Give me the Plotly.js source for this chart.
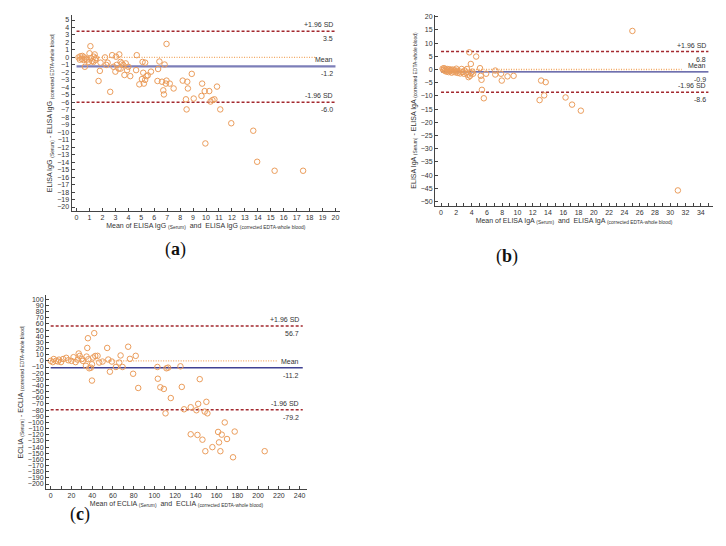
<!DOCTYPE html>
<html>
<head>
<meta charset="utf-8">
<script src="https://cdn.plot.ly/plotly-3.0.1.min.js"></script>
<style>html,body{margin:0;padding:0;background:#fff;}#chart{width:726px;height:546px;}</style>
</head>
<body>
<div id="chart"></div>
<script>
// ---- Panel (a): ELISA IgG ----
const aMean = [0.15,0.25,0.3,0.4,0.45,0.55,0.6,0.64,0.7,0.8,0.95,1.0,1.07,1.1,1.2,1.3,1.33,1.4,1.45,1.5,1.7,1.8,1.85,2.2,2.3,2.4,2.6,2.75,2.85,3.0,3.05,3.1,3.25,3.3,3.4,3.4,3.5,3.6,3.7,3.8,3.9,4.0,4.15,4.6,4.65,4.85,5.05,5.1,5.15,5.2,5.3,5.3,5.4,5.5,5.75,6.25,6.3,6.4,6.6,6.7,6.75,6.8,6.9,6.95,6.95,7.2,7.5,8.2,8.45,8.5,8.55,8.6,8.9,9.05,9.65,9.7,9.9,9.95,10.25,10.35,10.5,10.65,10.85,11.1,11.95,13.65,13.95,15.3,17.5];
const aDiff = [0.0,-0.3,0.15,-0.2,0.2,-0.35,0.0,-1.25,-0.2,-0.3,-0.6,0.55,1.5,-0.1,-0.5,-0.6,0.1,0.4,-0.35,-0.1,-3.15,-1.8,-0.7,0.0,-1.0,-0.7,-4.6,0.3,-1.25,-1.9,0.1,-1.0,-1.5,0.4,-0.6,-1.5,-0.8,-1.0,-2.35,-0.8,-1.7,-1.25,-2.5,-1.7,0.3,-3.6,-2.9,-0.6,-2.05,-3.5,-3.0,-0.7,-2.5,-2.4,-1.9,-3.15,-1.55,-0.55,-3.25,-4.4,-4.95,-0.95,-3.5,1.8,-3.1,-3.5,-4.15,-3.1,-5.6,-6.95,-3.25,-4.15,-2.2,-5.5,-5.15,-3.5,-4.5,-11.5,-4.5,-5.9,-5.7,-5.6,-3.9,-6.95,-8.8,-9.8,-13.95,-15.15,-15.15];
const aStats = {upper: 3.5, mean: -1.2, lower: -6.0};
const aLineX = [0, 20.0];
const aZeroX = [0, 18.5];

// ---- Panel (b): ELISA IgA ----
const bMean = [0.2,0.3,0.4,0.5,0.6,0.7,0.8,0.9,1.0,1.1,1.2,1.3,1.4,1.5,1.6,1.8,1.9,2.0,2.1,2.2,2.4,2.5,2.7,2.8,3.0,3.1,3.3,3.4,3.5,3.6,3.7,3.8,3.9,3.9,4.1,4.2,4.6,5.1,5.2,5.3,5.35,5.6,5.9,7.1,7.1,7.85,7.95,8.7,9.5,12.9,13.1,13.5,13.7,16.3,17.15,18.3,25.05,31.0];
const bDiff = [0.3,-0.2,0.5,-0.5,0.0,-0.8,0.2,-0.4,-1.0,0.1,-0.6,-0.2,-1.2,0.0,-0.8,-0.3,-1.1,0.3,-0.5,-1.3,-0.7,-1.5,0.2,-1.0,-1.6,-0.4,-1.2,0.2,-2.0,-2.9,6.5,-2.4,2.1,-1.4,-0.8,-1.6,4.9,0.5,-2.4,-3.9,-7.7,-10.9,-1.6,-0.4,-1.9,-1.6,-4.2,-2.6,-2.4,-11.6,-4.2,-9.8,-4.8,-10.6,-13.3,-15.6,14.6,-45.8];
const bStats = {upper: 6.8, mean: -0.9, lower: -8.6};
const bLineX = [0, 35.0];
const bZeroX = [0, 31.5];

// ---- Panel (c): ECLIA ----
const cMean = [0,2,3,5,7,8,10,12,15,17,20,22,24,26,27,28,30,31,34,34.6,35.3,35.9,36.3,37.2,38.8,39.8,39.8,41,42,43,45.2,46.8,50,54.5,55.5,57.1,59,62.9,66.1,67.4,69.3,74.7,76.4,79.5,82,84.4,102.9,103.3,105.7,109.1,110.7,111.6,113.2,115.8,125.1,126.4,128.6,135,135,140.5,141.5,142.2,143.7,146.3,148.5,149.1,150.1,151.1,155.9,161.4,162.3,163.6,164.9,167.8,170,175.8,177.4,206.3];
const cDiff = [0,-2,3,0,-1,2,-2,3,5,1,0,6,-2,2,12,8,3,0,-8,7,21,36.8,2.7,-12,-11,-5.5,-32,5.5,45,8,8.2,-2.7,-1.1,21,2.2,-17.6,-1.1,-9.9,-2.7,8.8,-9.9,23,3.3,-20.9,8.2,-44,-9.9,-29,-42.9,-45.6,-85.2,-12,-11,-60.4,-8.8,-42.3,-78.6,-75.3,-119.2,-80.2,-120.3,-69.8,-29.7,-128,-82.4,-146.7,-66.5,-85.2,-140.1,-115.4,-132.4,-146.7,-119.8,-100,-126.9,-156.6,-114.8,-146.7];
const cStats = {upper: 56.7, mean: -11.2, lower: -79.2};
const cLineX = [0, 243];
const cZeroX = [0, 219];

const statLabels = ['+1.96 SD', 'Mean', '-1.96 SD'];
const panelLetters = ['a', 'b', 'c'];

const ptColor = '#EB9D5C', sdColor = '#A3282E', zeroColor = '#F2A65E';
const txt = '#333333';
const W = 726, H = 546;
const px = v => v / W, py = v => 1 - v / H;

const traces = [];
const annotations = [];
const smallFont = {size: 7, color: txt, family: 'Liberation Sans'};

function panel(n, mean, diff, st, lineX, zeroX, meanColor, meanWidth, labelX) {
  const xa = n === 1 ? 'x' : 'x' + n, ya = n === 1 ? 'y' : 'y' + n;
  traces.push({x: zeroX, y: [0, 0], xaxis: xa, yaxis: ya, mode: 'lines', line: {color: zeroColor, width: 1.3, dash: '1px,1.5px'}, hoverinfo: 'skip'});
  traces.push({x: lineX, y: [st.upper, st.upper], xaxis: xa, yaxis: ya, mode: 'lines', line: {color: sdColor, width: 1.5, dash: '3px,2px'}});
  traces.push({x: lineX, y: [st.lower, st.lower], xaxis: xa, yaxis: ya, mode: 'lines', line: {color: sdColor, width: 1.5, dash: '3px,2px'}});
  traces.push({x: lineX, y: [st.mean, st.mean], xaxis: xa, yaxis: ya, mode: 'lines', line: {color: meanColor, width: meanWidth}});
  traces.push({x: mean, y: diff, xaxis: xa, yaxis: ya, mode: 'markers', marker: {symbol: 'circle-open', size: 5.5, color: ptColor, line: {width: 1, color: ptColor}}});
  const vals = [st.upper, st.mean, st.lower];
  vals.forEach((v, i) => {
    annotations.push({xref: xa, yref: ya, x: labelX, y: v, text: statLabels[i], showarrow: false, xanchor: 'right', yanchor: 'bottom', yshift: 1, font: smallFont});
    annotations.push({xref: xa, yref: ya, x: labelX, y: v, text: v.toFixed(1), showarrow: false, xanchor: 'right', yanchor: 'top', yshift: -2, font: smallFont});
  });
}

panel(1, aMean, aDiff, aStats, aLineX, aZeroX, '#7C7EB8', 2.4, 20.0);
panel(2, bMean, bDiff, bStats, bLineX, bZeroX, '#3F4193', 1.4, 35.0);
panel(3, cMean, cDiff, cStats, cLineX, cZeroX, '#3F4193', 1.4, 241.6);

function axisBase(extra) {
  return Object.assign({showline: true, linecolor: '#444', linewidth: 1, ticks: 'inside', ticklen: 3, tickcolor: '#444', tickwidth: 1,
    showgrid: false, zeroline: false, tickfont: smallFont, automargin: false, fixedrange: true}, extra);
}

const layout = {
  width: W, height: H, margin: {l: 0, r: 0, t: 0, b: 0}, paper_bgcolor: '#fff', plot_bgcolor: '#fff', showlegend: false,
  font: {family: 'Liberation Sans', color: txt},
  xaxis: axisBase({domain: [px(71.5), px(340)], range: [-0.39, 20.35], anchor: 'y', tickmode: 'linear', tick0: 0, dtick: 1,
    title: {text: 'Mean of ELISA IgG <sub>(Serum)</sub>  and  ELISA IgG <sub>(corrected EDTA-whole blood)</sub>', font: smallFont, standoff: 2}}),
  yaxis: axisBase({domain: [py(211), py(15)], range: [-20.53, 5.67], anchor: 'x', tickmode: 'linear', tick0: 0, dtick: 1,
    title: {text: 'ELISA IgG <sub>(Serum)</sub> - ELISA IgG <sub>(corrected EDTA-whole blood)</sub>', font: smallFont, standoff: 3}}),
  xaxis2: axisBase({domain: [px(435), px(713)], range: [-0.79, 35.6], anchor: 'y2', tickmode: 'linear', tick0: 0, dtick: 2,
    minor: {dtick: 1, ticks: 'inside', ticklen: 3, tickcolor: '#444'},
    title: {text: 'Mean of ELISA IgA <sub>(Serum)</sub>  and  ELISA IgA <sub>(corrected EDTA-whole blood)</sub>', font: smallFont, standoff: 2}}),
  yaxis2: axisBase({domain: [py(206), py(15)], range: [-51.7, 20.64], anchor: 'x2', tickmode: 'linear', tick0: 0, dtick: 5,
    title: {text: 'ELISA IgA <sub>(Serum)</sub> - ELISA IgA <sub>(corrected EDTA-whole blood)</sub>', font: smallFont, standoff: 3}}),
  xaxis3: axisBase({domain: [px(46), px(307)], range: [-4.5, 247.1], anchor: 'y3', tickmode: 'linear', tick0: 0, dtick: 20,
    minor: {dtick: 10, ticks: 'inside', ticklen: 3, tickcolor: '#444'},
    title: {text: 'Mean of ECLIA <sub>(Serum)</sub>  and  ECLIA <sub>(corrected EDTA-whole blood)</sub>', font: smallFont, standoff: 2}}),
  yaxis3: axisBase({domain: [py(489), py(295)], range: [-208.1, 107], anchor: 'x3', tickmode: 'linear', tick0: 0, dtick: 10,
    title: {text: 'ECLIA <sub>(Serum)</sub> - ECLIA <sub>(corrected EDTA-whole blood)</sub>', font: smallFont, standoff: 3}}),
  annotations: annotations.concat([
    {xref: 'paper', yref: 'paper', x: px(163), y: py(250), text: '(<b>' + panelLetters[0] + '</b>)', showarrow: false, font: {size: 18, family: 'Liberation Serif', color: '#111'}},
    {xref: 'paper', yref: 'paper', x: px(520), y: py(256), text: '(<b>' + panelLetters[1] + '</b>)', showarrow: false, font: {size: 18, family: 'Liberation Serif', color: '#111'}},
    {xref: 'paper', yref: 'paper', x: px(68), y: py(527), text: '(<b>' + panelLetters[2] + '</b>)', showarrow: false, font: {size: 18, family: 'Liberation Serif', color: '#111'}}
  ])
};

Plotly.newPlot('chart', traces, layout, {staticPlot: true, displayModeBar: false});
</script>
</body>
</html>
